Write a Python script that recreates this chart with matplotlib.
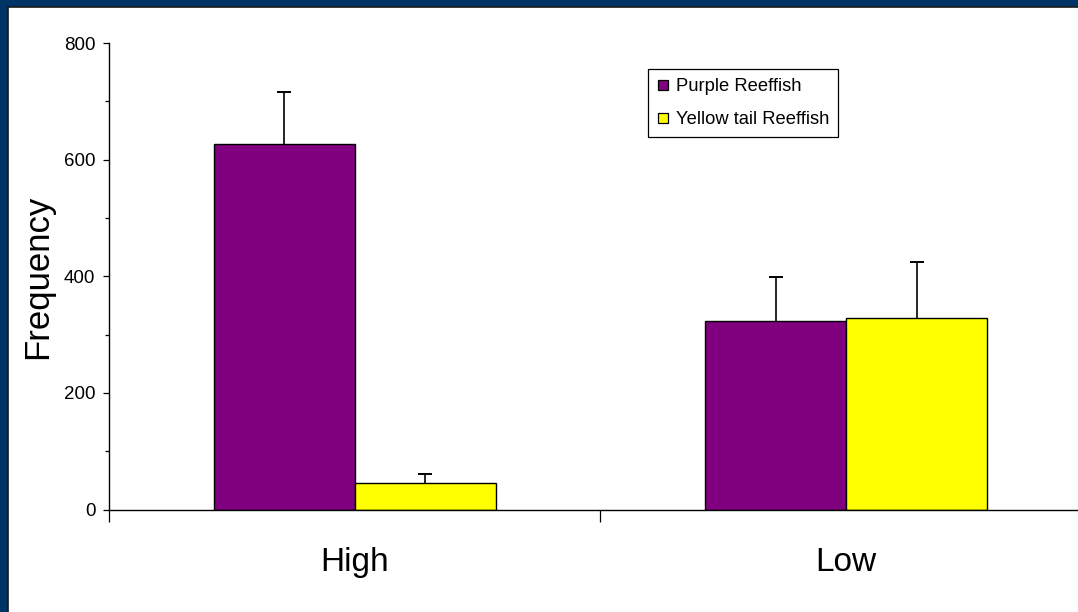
import matplotlib
matplotlib.use("Agg")
import matplotlib.pyplot as plt
import numpy as np
from matplotlib.patches import Rectangle
from matplotlib.lines import Line2D

plt.rcParams["font.family"] = ["Liberation Sans", "DejaVu Sans"]

categories = ["High", "Low"]
purple = [627, 324]
purple_err = [89, 74]
yellow = [46, 328]
yellow_err = [15, 97]
colors = ["#800080", "#FFFF00"]
legend_labels = ["Purple Reeffish", "Yellow tail Reeffish"]

W, H = 1078, 612
fig = plt.figure(figsize=(W / 100, H / 100), dpi=100)

# slide-style frame: blue band on left/top, white panel
fig.patches.append(Rectangle((0, 0), 1, 1, transform=fig.transFigure,
                             facecolor="#003366", edgecolor="none", zorder=-10))
fig.patches.append(Rectangle((7.5 / W, -0.1), 1.2, (H - 6.5) / H + 0.1,
                             transform=fig.transFigure, facecolor="white",
                             edgecolor="#1a1a1a", lw=1.2, zorder=-9))

ax = fig.add_axes([109 / W, (H - 509.5) / H, 983 / W, 466.5 / H])
ax.patch.set_visible(False)

x = np.arange(len(categories)) + 0.5
bw = 141 / 491
series = [(purple, purple_err), (yellow, yellow_err)]
for i, (vals, errs) in enumerate(series):
    xs = x + (i - 0.5) * bw
    ax.bar(xs, vals, width=bw, color=colors[i], edgecolor="black", lw=1.0, zorder=2)
    eb = ax.errorbar(xs, vals, yerr=[np.zeros(len(vals)), errs], fmt="none",
                     ecolor="black", elinewidth=1.2, capsize=5.3, capthick=1.4, zorder=3)
    # upper error only: drop the lower caps
    eb[1][0].remove()

ax.set_xlim(0, 2)
ax.set_ylim(0, 800)
for s in ["top", "right"]:
    ax.spines[s].set_visible(False)
ax.spines["left"].set_linewidth(1.0)
ax.spines["bottom"].set_linewidth(1.0)

ax.set_yticks([0, 200, 400, 600, 800])
ax.set_yticks(np.arange(100, 800, 200), minor=True)
ax.tick_params(axis="y", which="major", direction="out", length=4.3, width=0.9,
               labelsize=13.5, pad=5.5)
ax.tick_params(axis="y", which="minor", direction="out", length=2.8, width=0.9)

ax.set_xticks([0, 1, 2])
ax.set_xticklabels([])
ax.set_xticks(x, minor=True)
ax.set_xticklabels(categories, minor=True)
ax.tick_params(axis="x", which="major", direction="out", length=8.6, width=0.9)
ax.tick_params(axis="x", which="minor", length=0, labelsize=24, pad=27)

fig.text(38 / W, 1 - 277 / H, "Frequency", rotation=90, ha="center", va="center",
         fontsize=25)

handles = [Line2D([], [], marker="s", ls="none", markersize=6.5, markerfacecolor=c,
                  markeredgecolor="black", markeredgewidth=0.9) for c in colors]
leg = fig.legend(handles, legend_labels, loc="upper left",
                 bbox_to_anchor=(648 / W, 1 - 69 / H), bbox_transform=fig.transFigure,
                 borderaxespad=0, fontsize=13.2, fancybox=False, framealpha=1,
                 edgecolor="black", handlelength=0.6, handletextpad=0.4,
                 labelspacing=0.88, borderpad=0.5)
leg.get_frame().set_linewidth(0.9)

fig.savefig("out.png", dpi=100)
